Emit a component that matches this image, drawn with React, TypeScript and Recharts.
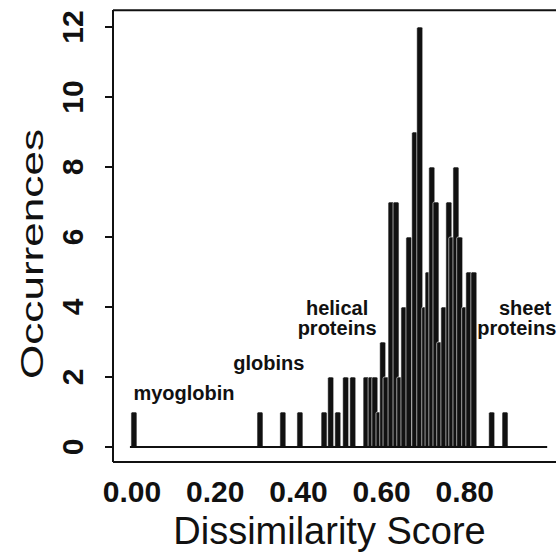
import {
  BarChart,
  Bar,
  XAxis,
  YAxis,
  ReferenceLine,
  ReferenceDot,
} from "recharts";

// dissimilarity score of each bar and how many pairs fall there
const scores = [
  0.005, 0.308, 0.363, 0.404, 0.462, 0.478, 0.495, 0.514, 0.531, 0.563, 0.575,
  0.584, 0.594, 0.603, 0.611, 0.623, 0.635, 0.644, 0.654, 0.666, 0.68, 0.692,
  0.704, 0.712, 0.721, 0.731, 0.74, 0.75, 0.762, 0.769, 0.779, 0.788, 0.8,
  0.81, 0.822, 0.865, 0.897,
];
const counts = [
  1, 1, 1, 1, 1, 2, 1, 2, 2, 2, 2, 2, 1, 3, 2, 7, 7, 2, 4, 6, 9, 12, 4, 5, 8,
  7, 3, 4, 7, 6, 8, 6, 4, 5, 5, 1, 1,
];
const xTicks = [0, 0.2, 0.4, 0.6, 0.8];
const yTicks = [0, 2, 4, 6, 8, 10, 12];

// group labels: text, score, occurrences
const notes: [string, number, number][] = [
  ["myoglobin", 0.125, 1.54],
  ["globins", 0.329, 2.4],
  ["helical", 0.493, 3.97],
  ["proteins", 0.493, 3.4],
  ["sheet", 0.945, 3.97],
  ["proteins", 0.925, 3.4],
];

const data = scores.map((s, i) => ({ score: s, count: counts[i] }));

const FONT = '"Liberation Sans", Arial, Helvetica, sans-serif';
const INK = "#111";
const BAR_W = 6;

function YTick({ x, y, payload }: any) {
  return (
    <text
      x={x}
      y={y}
      transform={`rotate(-90 ${x} ${y})`}
      textAnchor="middle"
      fontFamily={FONT}
      fontWeight="bold"
      fontSize={30}
      fill={INK}
    >
      {payload.value}
    </text>
  );
}

// the band on a number axis is tiny, so draw a fixed-width bar around its centre
function ThinBar({ x, y, width, height }: any) {
  if (!height || height <= 0) return null;
  const cx = x + width / 2;
  return (
    <rect
      x={cx - BAR_W / 2}
      y={y}
      width={BAR_W}
      height={height}
      rx={1.5}
      fill={INK}
      stroke="#fff"
      strokeWidth={0.6}
    />
  );
}

export default function App() {
  return (
    <div style={{ position: "absolute", left: 0, top: 0, background: "#fff" }}>
      <BarChart
        width={558}
        height={557}
        data={data}
        margin={{ top: 10, right: 2, bottom: 0, left: 0 }}
      >
        <XAxis
          dataKey="score"
          type="number"
          domain={[-0.0457, 1.0192]}
          allowDataOverflow
          ticks={xTicks}
          tickFormatter={(v) => v.toFixed(2)}
          height={95}
          tickLine={false}
          tickSize={0}
          tickMargin={19}
          axisLine={{ stroke: INK, strokeWidth: 2 }}
          tick={{ fontSize: 30, fontWeight: "bold", fill: INK, fontFamily: FONT }}
          label={{
            value: "Dissimilarity Score",
            position: "insideBottom",
            offset: 13,
            dx: -5,
            fontSize: 38,
            fill: INK,
            fontFamily: FONT,
          }}
        />
        <YAxis
          type="number"
          domain={[-0.4286, 12.4857]}
          allowDataOverflow
          ticks={yTicks}
          width={113}
          tickSize={8}
          tickMargin={22}
          tickLine={{ stroke: INK, strokeWidth: 2 }}
          axisLine={{ stroke: INK, strokeWidth: 2 }}
          tick={<YTick />}
          label={{
            content: ({ viewBox }: any) => {
              const x = viewBox.x + 43;
              const y = 254;
              return (
                <text
                  x={x}
                  y={y}
                  transform={`rotate(-90 ${x} ${y})`}
                  textAnchor="middle"
                  fontFamily={FONT}
                  fontSize={32}
                  fill={INK}
                  textLength={250}
                  lengthAdjust="spacingAndGlyphs"
                >
                  Occurrences
                </text>
              );
            },
          }}
        />
        <ReferenceLine y={12.48} stroke={INK} strokeWidth={2} />
        <ReferenceLine
          segment={[
            { x: -0.005, y: 0 },
            { x: 0.998, y: 0 },
          ]}
          stroke={INK}
          strokeWidth={2}
        />
        <Bar
          dataKey="count"
          barSize={6}
          shape={<ThinBar />}
          fill={INK}
          isAnimationActive={false}
        />
        {notes.map(([text, x, y], i) => (
          <ReferenceDot
            key={i}
            x={x}
            y={y}
            r={0}
            stroke="none"
            fill="none"
            label={{
              value: text,
              position: "center",
              fontSize: 20,
              fontWeight: "bold",
              fill: INK,
              fontFamily: FONT,
            }}
          />
        ))}
      </BarChart>
    </div>
  );
}
